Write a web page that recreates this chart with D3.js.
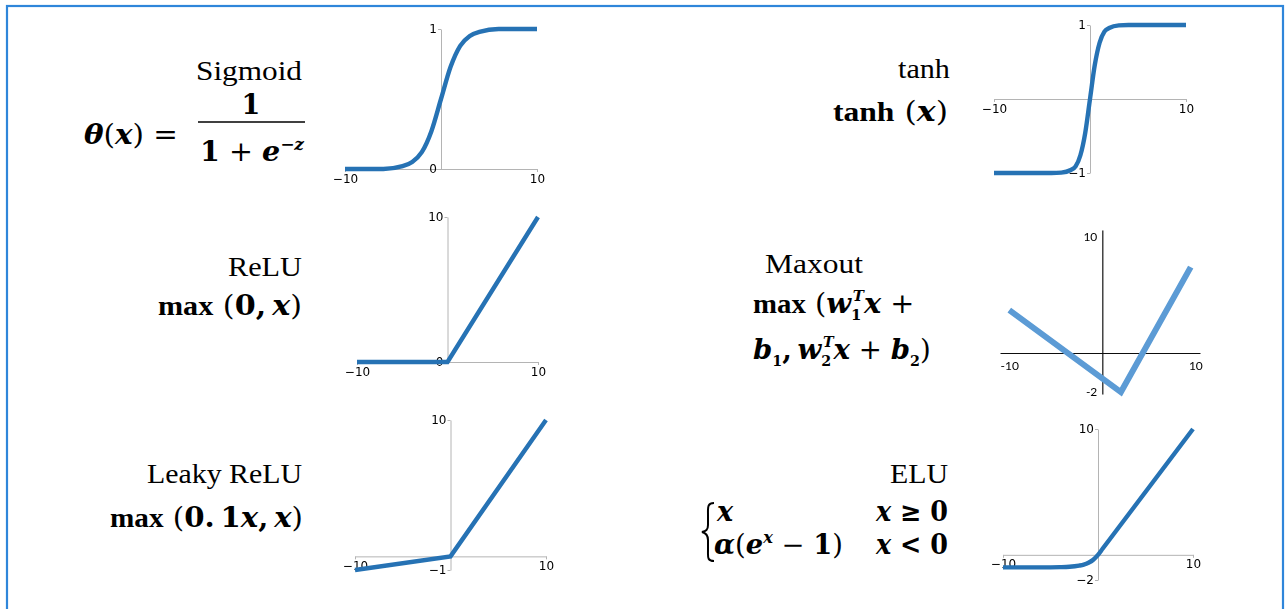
<!DOCTYPE html>
<html>
<head>
<meta charset="utf-8">
<script src="https://cdn.jsdelivr.net/npm/d3@7"></script>
<style>
  html, body { margin: 0; padding: 0; background: #fff; }
  svg { display: block; }
  text { white-space: pre; fill: #000; }
  .nm { font-family: "Liberation Serif", serif; font-size: 27px; }
  .kw { font-family: "Liberation Serif", serif; font-weight: bold; }
  .v  { font-family: "DejaVu Serif", serif; font-weight: bold; font-style: italic; }
  .n  { font-family: "DejaVu Serif", serif; font-weight: bold; }
  .o  { font-family: "DejaVu Serif", serif; font-weight: normal; }
  .s  { font-size: 16px; }
  .ss { font-size: 14px; }
  .fx { font-size: 27px; }
</style>
</head>
<body>
<svg id="chart" width="1288" height="609"></svg>
<script>
// ---------- data ----------
const xTicks = [-10, 10];

const sigmoidX = [-10, -6, -4, -3, -2, -1, 0, 1, 2, 3, 4, 6, 10];
const sigmoidY = [0.00, 0.00, 0.02, 0.05, 0.12, 0.27, 0.50, 0.73, 0.88, 0.95, 0.98, 1.00, 1.00];
const sigmoidTicks = [0, 1];

const tanhX = [-10, -4, -3, -2, -1.5, -1, -0.5, 0, 0.5, 1, 1.5, 2, 3, 4, 10];
const tanhY = [-1.00, -1.00, -0.995, -0.96, -0.91, -0.76, -0.46, 0, 0.46, 0.76, 0.91, 0.96, 0.995, 1.00, 1.00];
const tanhTicks = [-1, 1];

const reluX = [-10, 0, 10];
const reluY = [0, 0, 10];
const reluTicks = [0, 10];

const leakyX = [-10, 0, 10];
const leakyY = [-1, 0, 10];
const leakyTicks = [-1, 10];

const eluX = [-10, -6, -4, -3, -2, -1.5, -1, -0.5, 0, 0.5, 1, 10];
const eluY = [-1.00, -1.00, -0.98, -0.95, -0.86, -0.78, -0.63, -0.39, 0, 0.5, 1, 10];
const eluTicks = [-2, 10];

const maxoutX = [-10, 2, 9.5];
const maxoutY = [3.7, -2, 7.4];
const maxoutTicks = [-2, 10];

// ---------- canvas ----------
const svg = d3.select("#chart");
const defs = svg.append("defs");
defs.append("filter").attr("id", "soft")
  .attr("x", "-10%").attr("y", "-10%").attr("width", "120%").attr("height", "120%")
  .append("feGaussianBlur").attr("stdDeviation", 0.6);

// outer frame
svg.append("rect")
  .attr("x", 7).attr("y", 6).attr("width", 1276).attr("height", 650)
  .attr("fill", "none").attr("stroke", "#2f86da").attr("stroke-width", 2.2);

// tick labels with a typographic minus
const fmtMinus = d => (d < 0 ? "\u2212" + Math.abs(d) : String(d));

// ---------- matplotlib-style mini plots ----------
const plots = [
  { xs: sigmoidX, ys: sigmoidY, yDom: [0, 1],   yTicks: sigmoidTicks, xr: [345, 537],  yr: [169, 29],  curve: d3.curveMonotoneX },
  { xs: tanhX,    ys: tanhY,    yDom: [-1, 1],  yTicks: tanhTicks,    xr: [994, 1186], yr: [173, 25],  curve: d3.curveMonotoneX },
  { xs: reluX,    ys: reluY,    yDom: [0, 10],  yTicks: reluTicks,    xr: [357, 538],  yr: [362, 217], curve: d3.curveLinear },
  { xs: leakyX,   ys: leakyY,   yDom: [-1, 10], yTicks: leakyTicks,   xr: [355, 546],  yr: [570, 420], curve: d3.curveLinear },
  { xs: eluX,     ys: eluY,     yDom: [-2, 10], yTicks: eluTicks,     xr: [1003, 1193], yr: [580, 429], curve: d3.curveMonotoneX }
];

plots.forEach(p => {
  const x = d3.scaleLinear().domain([-10, 10]).range(p.xr);
  const y = d3.scaleLinear().domain(p.yDom).range(p.yr);
  const g = svg.append("g").attr("filter", "url(#soft)");

  const ax = g.append("g").attr("transform", `translate(0,${y(0)})`)
    .call(d3.axisBottom(x).tickValues(xTicks).tickFormat(fmtMinus)
      .tickSize(3).tickSizeOuter(0).tickPadding(2));
  const ay = g.append("g").attr("transform", `translate(${x(0)},0)`)
    .call(d3.axisLeft(y).tickValues(p.yTicks).tickFormat(fmtMinus)
      .tickSize(3).tickSizeOuter(0).tickPadding(1));
  [ax, ay].forEach(a => {
    a.select(".domain").attr("stroke", "#b4b4b4");
    a.selectAll(".tick line").attr("stroke", "#b4b4b4");
    a.selectAll("text").attr("fill", "#3a3a3a")
      .style("font-family", "'DejaVu Sans', sans-serif").style("font-size", "12px");
  });

  g.append("path")
    .datum(d3.zip(p.xs, p.ys))
    .attr("fill", "none").attr("stroke", "#2572b4").attr("stroke-width", 4.4)
    .attr("d", d3.line().x(d => x(d[0])).y(d => y(d[1])).curve(p.curve));
});

// ---------- Maxout sketch ----------
{
  const x = d3.scaleLinear().domain([-11, 10.5]).range([1000, 1200]);
  const y = d3.scaleLinear().domain([-2.1, 0, 10.6]).range([394, 353, 230]);
  const g = svg.append("g").attr("filter", "url(#soft)");
  const ax = g.append("g").attr("transform", `translate(0,${y(0)})`)
    .call(d3.axisBottom(x).tickValues(xTicks).tickSize(0).tickSizeOuter(0).tickPadding(8)
      .tickFormat(d => String(d)));
  const ay = g.append("g").attr("transform", `translate(${x(0)},0)`)
    .call(d3.axisLeft(y).tickValues(maxoutTicks).tickSize(0).tickSizeOuter(0).tickPadding(5)
      .tickFormat(d => String(d)));
  [ax, ay].forEach(a => {
    a.select(".domain").attr("stroke", "#111").attr("stroke-width", 1.2);
    a.selectAll("text").attr("fill", "#222")
      .style("font-family", "Lato, sans-serif").style("font-size", "12px");
  });
  g.append("path")
    .datum(d3.zip(maxoutX, maxoutY))
    .attr("fill", "none").attr("stroke", "#5b9bd5").attr("stroke-width", 6)
    .attr("d", d3.line().x(d => x(d[0])).y(d => y(d[1])));
}

// ---------- labels and formulas ----------
function rich(parts, cls, anchor, ax, by, w) {
  const t = svg.append("text").attr("class", cls);
  let cur = 0;
  parts.forEach(p => {
    const sh = p.shift || 0;
    const ts = t.append("tspan").attr("class", p.c || "").text(p.t);
    if (sh !== cur) ts.attr("dy", sh - cur);
    if (p.dx) ts.attr("dx", p.dx);
    cur = sh;
  });
  const natural = t.node().getComputedTextLength();
  const sx = w ? w / natural : 1.0;
  const width = natural * sx;
  const x0 = anchor === "end" ? ax - width : anchor === "middle" ? ax - width / 2 : ax;
  t.attr("transform", `translate(${x0},${by}) scale(${sx},1)`);
  return t;
}

const TH = "\u2009"; // thin space

// activation names
rich([{ t: "Sigmoid" }],    "nm", "end",   302, 80, 106);
rich([{ t: "tanh" }],       "nm", "end",   950, 78, 52);
rich([{ t: "ReLU" }],       "nm", "end",   302, 276, 74);
rich([{ t: "Maxout" }],     "nm", "start", 765, 273, 98);
rich([{ t: "Leaky ReLU" }], "nm", "end",   302, 483, 155);
rich([{ t: "ELU" }],        "nm", "end",   948, 483, 58);

// sigmoid
rich([{ t: "θ", c: "v" }, { t: "(", c: "o" }, { t: "x", c: "v" }, { t: ")", c: "o" }, { t: " =", c: "o" }],
  "fx", "start", 84, 144, 94);
rich([{ t: "1", c: "n" }], "fx", "middle", 251, 114, null);
svg.append("line").attr("x1", 198).attr("x2", 305).attr("y1", 122).attr("y2", 122)
  .attr("stroke", "#000").attr("stroke-width", 1.5);
rich([{ t: "1", c: "n" }, { t: " + ", c: "o" }, { t: "e", c: "v" },
      { t: "−", c: "n s", shift: -11 }, { t: "z", c: "v s", shift: -11 }],
  "fx", "start", 200, 161, 104);

// tanh
rich([{ t: "tanh", c: "kw" }, { t: " (", c: "o" }, { t: "x", c: "v" }, { t: ")", c: "o" }],
  "fx", "start", 833, 121, 115);

// ReLU
rich([{ t: "max", c: "kw" }, { t: " (", c: "o" }, { t: "0", c: "n" }, { t: "," + TH, c: "n" },
      { t: "x", c: "v" }, { t: ")", c: "o" }],
  "fx", "start", 158, 315, 144);

// Leaky ReLU
rich([{ t: "max", c: "kw" }, { t: " (", c: "o" }, { t: "0." + TH + "1", c: "n" }, { t: "x", c: "v" },
      { t: "," + TH, c: "n" }, { t: "x", c: "v" }, { t: ")", c: "o" }],
  "fx", "start", 110, 527, 193);

// Maxout
rich([{ t: "max", c: "kw" }, { t: " (", c: "o" }, { t: "w", c: "v" },
      { t: "1", c: "n ss", shift: 7 }, { t: "T", c: "v ss", shift: -12, dx: -8 },
      { t: "x", c: "v" }, { t: " +", c: "o" }],
  "fx", "start", 753, 313, 170);
rich([{ t: "b", c: "v" }, { t: "1", c: "n ss", shift: 7 }, { t: "," + TH, c: "n" },
      { t: "w", c: "v" }, { t: "2", c: "n ss", shift: 7 }, { t: "T", c: "v ss", shift: -12, dx: -8 },
      { t: "x", c: "v" }, { t: " + ", c: "o" }, { t: "b", c: "v" },
      { t: "2", c: "n ss", shift: 7 }, { t: ")", c: "o" }],
  "fx", "start", 753, 359, 186);

// ELU piecewise definition
svg.append("path")
  .attr("d", "M714,503 C707,503 708,508 708,515 L708,525 C708,530 706,531 702,532 C706,533 708,535 708,540 L708,550 C708,557 707,561 714,561")
  .attr("fill", "none").attr("stroke", "#000").attr("stroke-width", 2);
rich([{ t: "x", c: "v" }], "fx", "start", 717, 521, null);
rich([{ t: "x", c: "v" }, { t: " ≥ ", c: "n" }, { t: "0", c: "n" }], "fx", "end", 948, 521, 72);
rich([{ t: "α", c: "v" }, { t: "(", c: "o" }, { t: "e", c: "v" }, { t: "x", c: "v s", shift: -11 },
      { t: " − ", c: "o" }, { t: "1", c: "n" }, { t: ")", c: "o" }],
  "fx", "start", 714, 554, 129);
rich([{ t: "x", c: "v" }, { t: " < ", c: "n" }, { t: "0", c: "n" }], "fx", "end", 948, 554, 72);
</script>
</body>
</html>
